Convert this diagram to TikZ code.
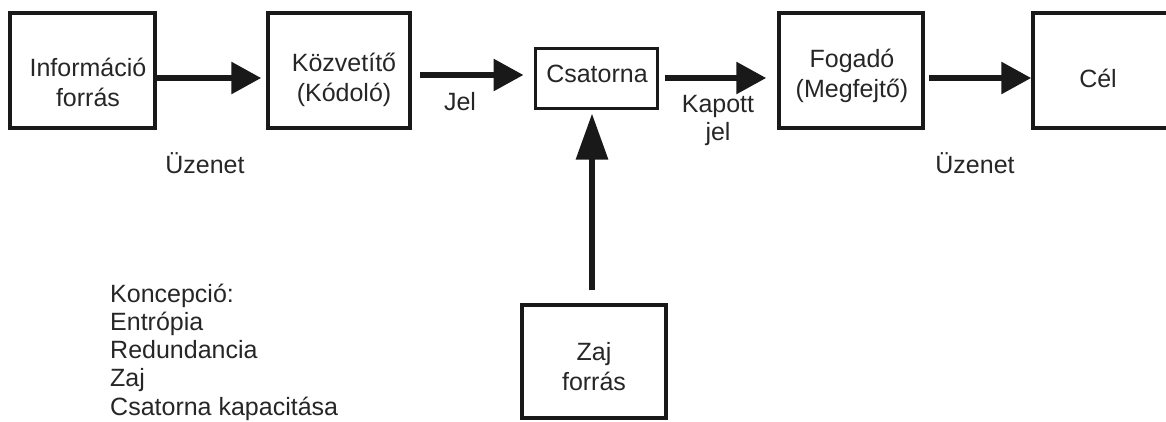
\documentclass[tikz,border=0pt]{standalone}
\usepackage{fontspec}
\setmainfont{Liberation Sans}
\usetikzlibrary{arrows.meta}

\tikzset{
  blokk/.style={draw=black!90, line width=3.5pt, inner sep=0pt,
    minimum width=#1, minimum height=115pt},
  blokk/.default=144pt,
  nyil/.style={line width=6pt, draw=black!90,
    -{Triangle[length=30pt, width=31pt]}},
  felirat/.style={text=black!85, align=center, inner sep=0pt, anchor=base}
}

\begin{document}
\begin{tikzpicture}[x=1pt, y=-1pt, font=\fontsize{25}{30}\selectfont]
			%%%%% keret %%%%%
			\clip (0, 0) rectangle (1166, 421);
			
			%%%%% blokkok %%%%%
			\node[blokk=145pt] (info) at (82.5, 70.5) {};
			\node[blokk=142pt] (kozv) at (339, 70.5) {};
			\node[blokk=122pt, minimum height=60pt, line width=3pt] (csat) at (596, 78) {};
			\node[blokk=144pt] (fog) at (851, 70.5) {};
			\node[blokk=145pt] (cel) at (1105.5, 70.5) {};
			\node[blokk=144pt, minimum height=113pt] (zaj) at (594, 361.5) {};
			
			% szoveg: base = utolso sor alapvonala
			\node[felirat] (info-t) at (88, 106) {Információ\\forrás};
			\node[felirat] (kozv-t) at (344, 101) {Közvetítő\\(Kódoló)};
			\node[felirat] (csat-t) at (597, 82) {Csatorna};
			\node[felirat] (fog-t) at (852, 97) {Fogadó\\(Megfejtő)};
			\node[felirat] (cel-t) at (1098, 87) {Cél};
			\node[felirat] (zaj-t) at (594, 390) {Zaj\\forrás};
			
			%%%%% nyilak %%%%%
			\draw[nyil, shorten >=5pt] (info.east |- csat) -- (kozv.west |- csat);
			\draw[nyil, shorten <=8pt, shorten >=10pt] ([yshift=3pt]kozv.east |- csat) -- ([yshift=3pt]csat.west);
			\draw[nyil, shorten <=6pt, shorten >=11pt] (csat.east) -- (fog.west |- csat);
			\draw[nyil, shorten <=4pt] (fog.east |- csat) -- (cel.west |- csat);
			\draw[nyil, shorten <=13pt, shorten >=4pt,
			  -{Triangle[length=46pt, width=31pt]}] ([xshift=-2pt]zaj.north) -- ([xshift=-2pt]zaj.north |- csat.south);
			
			%%%%% feliratok %%%%%
			\node[felirat] (uz1) at (205, 173) {Üzenet};
			\node[felirat] (jel) at (460, 110) {Jel};
			\node[felirat] (kap) at (718, 112) {Kapott};
			\node[felirat] (kapjel) at (718, 140) {jel};
			\node[felirat] (uz2) at (975, 173) {Üzenet};
			
			\foreach \szo [count=\i] in {Koncepció:, Entrópia, Redundancia, Zaj, Csatorna kapacitása}
			  \node[felirat, anchor=base west] (konc\i) at (110, {302 + 28.3*(\i - 1)}) {\szo};
			
			%%%%% vege %%%%%
		\end{tikzpicture}
\end{document}
